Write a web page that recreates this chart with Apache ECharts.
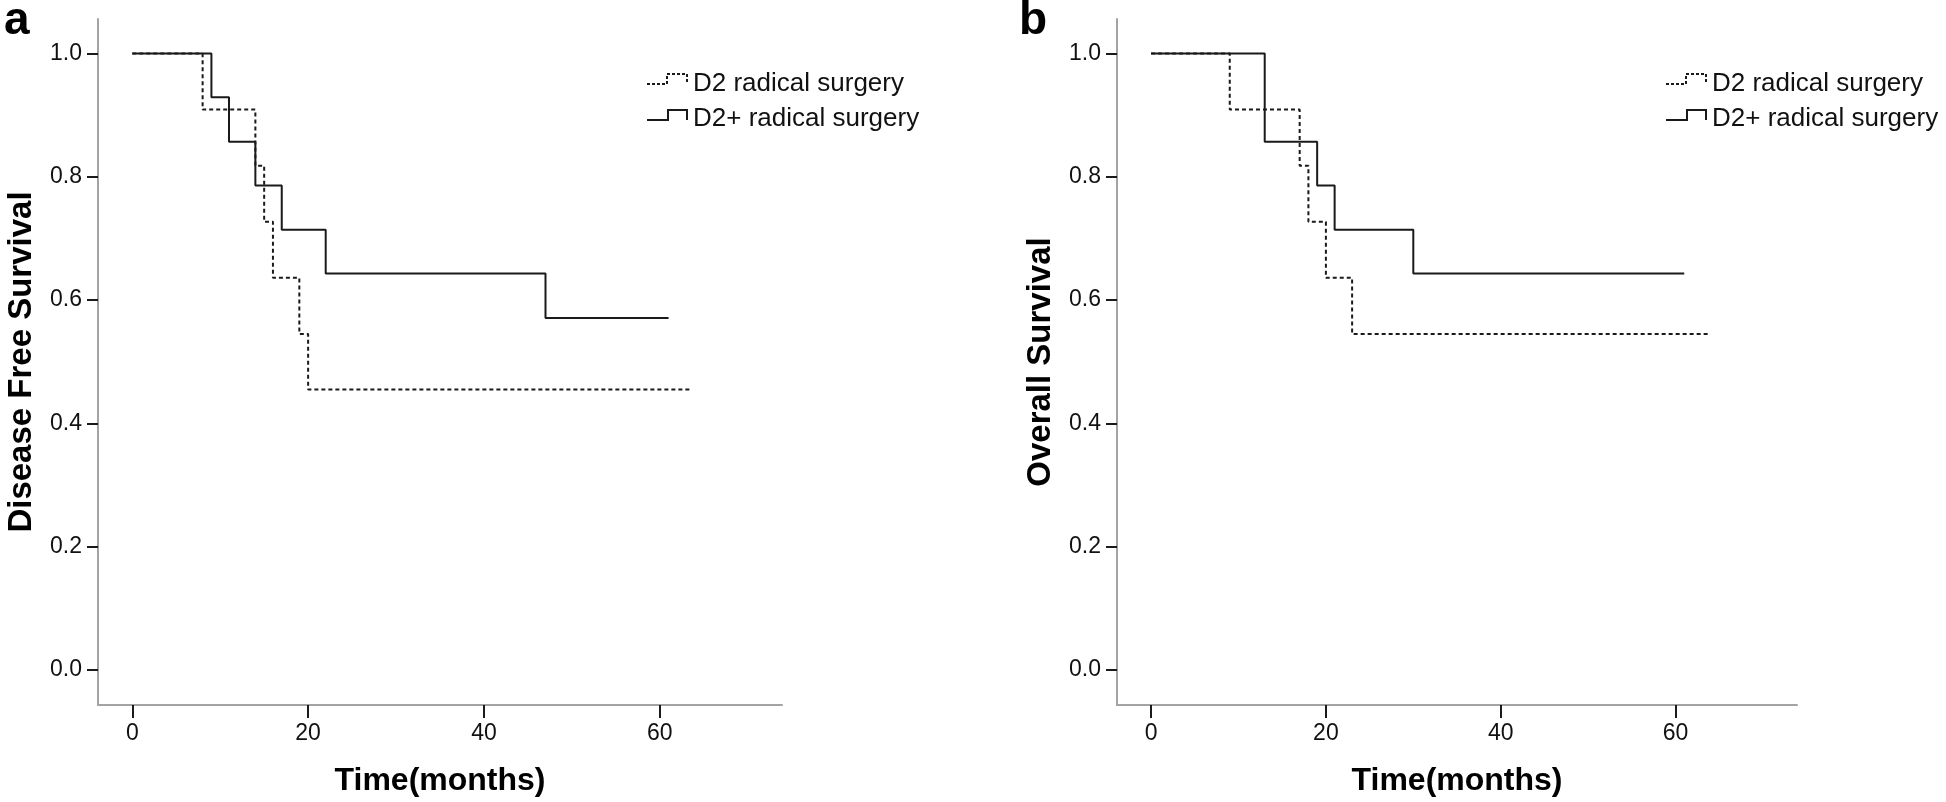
<!DOCTYPE html>
<html><head><meta charset="utf-8">
<script src="https://cdn.jsdelivr.net/npm/echarts@6/dist/echarts.min.js"></script>
<style>html,body{margin:0;padding:0;background:#fff}#c{width:1946px;height:802px}</style>
</head><body><div id="c"></div>
<script>
// ---- data ----
const xTicks = [0, 20, 40, 60];
const yTicks = [0, 0.2, 0.4, 0.6, 0.8, 1.0];
const seriesNames = ['D2 radical surgery', 'D2+ radical surgery'];
const panelLetters = ['a', 'b'];
const yTitles = ['Disease Free Survival', 'Overall Survival'];
const xTitle = 'Time(months)';

// Panel a: disease free survival (Kaplan-Meier steps)
const dfsD2Time  = [0, 8, 14, 15, 16, 19, 20, 63.6];
const dfsD2Surv  = [1, 0.909, 0.818, 0.727, 0.636, 0.545, 0.455, 0.455];
const dfsD2pTime = [0, 9, 11, 14, 17, 22, 47, 61];
const dfsD2pSurv = [1, 0.929, 0.857, 0.786, 0.714, 0.643, 0.571, 0.571];
// Panel b: overall survival
const osD2Time  = [0, 9, 17, 18, 20, 23, 64];
const osD2Surv  = [1, 0.909, 0.818, 0.727, 0.636, 0.545, 0.545];
const osD2pTime = [0, 13, 19, 21, 30, 61];
const osD2pSurv = [1, 0.857, 0.786, 0.714, 0.643, 0.643];

const zip = (t, s) => t.map((v, i) => [v, s[i]]);
const FONT = "'Liberation Sans', Arial, sans-serif";
const AXIS_GRAY = '#a3a3a3';
const INK = '#1a1a1a';

const chart = echarts.init(document.getElementById('c'), null, {renderer: 'canvas'});

const grids = [
  {left: 98, top: 19, width: 684, height: 686},
  {left: 1117, top: 19, width: 680, height: 686}
];

function xAxisCfg(i) {
  return {
    gridIndex: i, type: 'value', min: -3.9, max: 73.9,
    name: xTitle, nameLocation: 'middle', nameGap: 60,
    nameTextStyle: {fontFamily: FONT, fontSize: 32, fontWeight: 'bold', color: '#000'},
    axisLine: {show: true, onZero: false, lineStyle: {color: AXIS_GRAY, width: 2}},
    axisTick: {show: true, length: 13, customValues: xTicks, lineStyle: {color: INK, width: 2}},
    axisLabel: {customValues: xTicks, margin: 17, fontFamily: FONT, fontSize: 23, color: '#111'},
    splitLine: {show: false}
  };
}
function yAxisCfg(i) {
  return {
    gridIndex: i, type: 'value', min: -0.057, max: 1.056,
    name: yTitles[i], nameLocation: 'middle', nameRotate: 90, nameGap: 60,
    nameTextStyle: {fontFamily: FONT, fontSize: 33, fontWeight: 'bold', color: '#000'},
    axisLine: {show: true, onZero: false, lineStyle: {color: AXIS_GRAY, width: 2}},
    axisTick: {show: true, length: 11, customValues: yTicks, lineStyle: {color: INK, width: 2}},
    axisLabel: {customValues: yTicks, margin: 16, fontFamily: FONT, fontSize: 23, color: '#111',
      formatter: v => Number(v).toFixed(1)},
    splitLine: {show: false}
  };
}
function kmSeries(name, xi, data, dashed) {
  return {
    name: name, type: 'line', step: 'end', xAxisIndex: xi, yAxisIndex: xi,
    data: data, symbol: 'none', silent: true, animation: false,
    lineStyle: {color: INK, width: 2, type: dashed ? [4, 3] : 'solid'}
  };
}

// legend drawn as decoration (step-shaped keys like the original)
function legendGraphics(dx) {
  const out = [];
  out.push({type: 'polyline', silent: true,
    shape: {points: [[647+dx,84],[667+dx,84],[667+dx,74],[687+dx,74],[687+dx,84]]},
    style: {stroke: INK, lineWidth: 2, lineDash: [3, 2], fill: null}});
  out.push({type: 'text', silent: true, x: 693+dx, y: 84,
    style: {text: seriesNames[0], font: '26px ' + FONT, fill: '#111', verticalAlign: 'middle', align: 'left'}});
  out.push({type: 'polyline', silent: true,
    shape: {points: [[647+dx,120],[668+dx,120],[668+dx,110],[687+dx,110],[687+dx,120]]},
    style: {stroke: INK, lineWidth: 2, fill: null}});
  out.push({type: 'text', silent: true, x: 693+dx, y: 119,
    style: {text: seriesNames[1], font: '26px ' + FONT, fill: '#111', verticalAlign: 'middle', align: 'left'}});
  return out;
}

chart.setOption({
  backgroundColor: '#fff',
  animation: false,
  title: [
    {text: panelLetters[0], left: 4, top: -2, padding: 0, textStyle: {fontFamily: FONT, fontSize: 46, fontWeight: 'bold', color: '#000'}},
    {text: panelLetters[1], left: 1019, top: -2, padding: 0, textStyle: {fontFamily: FONT, fontSize: 46, fontWeight: 'bold', color: '#000'}}
  ],
  grid: grids,
  xAxis: [xAxisCfg(0), xAxisCfg(1)],
  yAxis: [yAxisCfg(0), yAxisCfg(1)],
  series: [
    kmSeries(seriesNames[0], 0, zip(dfsD2Time, dfsD2Surv), true),
    kmSeries(seriesNames[1], 0, zip(dfsD2pTime, dfsD2pSurv), false),
    kmSeries(seriesNames[0], 1, zip(osD2Time, osD2Surv), true),
    kmSeries(seriesNames[1], 1, zip(osD2pTime, osD2pSurv), false)
  ],
  graphic: legendGraphics(0).concat(legendGraphics(1019))
});
</script></body></html>
